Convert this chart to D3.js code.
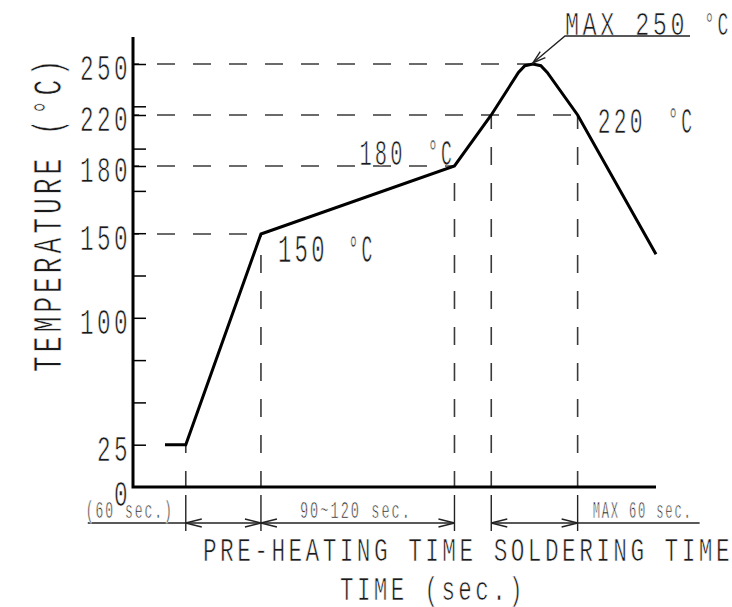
<!DOCTYPE html>
<html lang="en">
<head>
    <meta charset="UTF-8">
    <title>Reflow profile</title>
    <script src="https://d3js.org/d3.v7.min.js"></script>
    <style>
        body {
            margin: 0;
            padding: 0;
            background-color: #fff;
        }
        text {
            font-family: "Liberation Mono", "DejaVu Sans Mono", monospace;
            letter-spacing: 0.15em;
            fill: #1a1a1a;
            stroke: #fff;
            stroke-width: 0.7;
        }
        .axis-line {
            stroke: #000;
            stroke-width: 3;
            fill: none;
        }
        .profile {
            fill: none;
            stroke: #000;
            stroke-width: 3;
            stroke-linejoin: miter;
        }
        .guide {
            stroke: #3a3a3a;
            stroke-width: 1.6;
            stroke-dasharray: 18 18;
            fill: none;
        }
        .thin {
            stroke: #222;
            stroke-width: 1.4;
            fill: none;
        }
    </style>
</head>
<body>
    <div id="chart"></div>
    <script>
        // data (time in sec, temperature in deg C)
        const profileTime = [20, 33, 80, 201, 224, 241, 245, 250, 255, 259, 278, 327];
        const profileTemp = [25, 25, 150, 180, 220, 245, 249, 250, 249, 245, 220, 138];

        const tempLabels = [250, 220, 180, 150, 100, 25, 0];
        const gradTemps = [25, 50, 75, 100, 125, 150, 175, 200, 225, 250];
        const extraTicks = [180, 220];

        const guideTemps = [250, 220, 180, 150];
        const guideTimes = [248, 278, 201, 80];

        const markTimes = [33, 80, 201, 224, 278];
        const markTemps = [25, 150, 180, 220, 220];

        const spanStart = [33, 80, 224];
        const spanEnd = [80, 201, 278];
        const spanLabels = ["(60 sec.)", "90~120 sec.", "MAX 60 sec."];

        const width = 732, height = 607;

        const svg = d3.select("#chart")
            .append("svg")
            .attr("width", width)
            .attr("height", height);

        const x = d3.scaleLinear().domain([0, 327]).range([133, 656]);
        // drawing is not to scale around 180, so piecewise
        const y = d3.scaleLinear()
            .domain([0, 150, 180, 220, 250])
            .range([487, 234, 166, 115, 64]);
        // evenly spaced graduation marks
        const grad = d3.scaleLinear().domain([0, 250]).range([487, 64]);

        function label(px, py, str, len, size, anchor) {
            return svg.append("text")
                .attr("x", px)
                .attr("y", py)
                .attr("font-size", size)
                .attr("text-anchor", anchor || "start")
                .attr("textLength", len)
                .attr("lengthAdjust", "spacingAndGlyphs")
                .text(str);
        }

        // horizontal guides
        guideTemps.forEach((t, i) => {
            svg.append("line")
                .attr("class", "guide")
                .attr("stroke-dashoffset", 12)
                .attr("x1", x(0)).attr("x2", x(guideTimes[i]))
                .attr("y1", y(t)).attr("y2", y(t));
        });

        // vertical guides down to axis
        markTimes.forEach((t, i) => {
            svg.append("line")
                .attr("class", "guide")
                .attr("x1", x(t)).attr("x2", x(t))
                .attr("y1", y(0)).attr("y2", y(markTemps[i]))
                .attr("stroke-dashoffset", 2);
            svg.append("line")
                .attr("class", "thin")
                .attr("x1", x(t)).attr("x2", x(t))
                .attr("y1", y(0) + 8).attr("y2", y(0) + 44);
        });

        // graduation ticks
        svg.append("g")
            .attr("transform", `translate(${x(0)},0)`)
            .call(d3.axisRight(grad).tickValues(gradTemps).tickSize(13).tickFormat(""))
            .call(g => g.select(".domain").remove())
            .call(g => g.selectAll("line").attr("stroke", "#000").attr("stroke-width", 1.5));
        svg.append("g")
            .attr("transform", `translate(${x(0)},0)`)
            .call(d3.axisRight(y).tickValues(extraTicks).tickSize(13).tickFormat(""))
            .call(g => g.select(".domain").remove())
            .call(g => g.selectAll("line").attr("stroke", "#000").attr("stroke-width", 1.5));

        // axes
        svg.append("path")
            .attr("class", "axis-line")
            .attr("d", `M${x(0)},37 V${y(0)} H${x(327)}`);

        // tick labels
        tempLabels.forEach(t => {
            const s = String(t);
            label(131, y(t) + (t === 0 ? 19 : 16), s, 17 * s.length, 37, "end");
        });

        // profile
        const pts = profileTime.map((t, i) => [x(t), y(profileTemp[i])]);
        svg.append("path")
            .attr("class", "profile")
            .attr("d", d3.line()(pts));

        // dimension line
        const dimY = 523;
        svg.append("line").attr("class", "thin")
            .attr("x1", x(spanStart[0]) - 98).attr("x2", x(spanEnd[1]))
            .attr("y1", dimY).attr("y2", dimY);
        svg.append("line").attr("class", "thin")
            .attr("x1", x(spanStart[2])).attr("x2", x(spanEnd[2]) + 122)
            .attr("y1", dimY).attr("y2", dimY);

        function arrowHead(tx, ty, dx, dy, len, half) {
            const l = Math.hypot(dx, dy);
            const ux = dx / l, uy = dy / l;
            const bx = tx - ux * len, by = ty - uy * len;
            svg.append("path")
                .attr("class", "thin")
                .attr("d", `M${bx - uy * half},${by + ux * half} L${tx},${ty} L${bx + uy * half},${by - ux * half}`);
        }

        spanStart.forEach((s, i) => {
            arrowHead(x(s), dimY, -1, 0, 16, 4);
            arrowHead(x(spanEnd[i]), dimY, 1, 0, 16, 4);
        });

        label(x(spanStart[0]) - 12, 518, spanLabels[0], 88, 23, "end");
        label(x(spanStart[1]) + 39, 518, spanLabels[1], 112, 23);
        label(x(spanEnd[2]) + 15, 518, spanLabels[2], 100, 23);

        // point annotations
        label(x(80) + 17, y(150) + 28, "150", 50, 39);
        label(x(80) + 87, y(150) + 28, "°C", 27, 39);
        label(x(201) - 95, y(180) - 1, "180", 46, 37);
        label(x(201) - 27, y(180) - 1, "°C", 27, 37);
        label(x(278) + 20, y(220) + 18, "220", 48, 37);
        label(x(278) + 90, y(220) + 18, "°C", 27, 37);

        // MAX 250 leader
        const peakX = x(250), peakY = y(250) - 1;
        label(565, 35, "MAX 250", 123, 34);
        label(704, 35, "°C", 27, 34);
        svg.append("path").attr("class", "thin")
            .attr("d", `M690,36 H565 L${peakX},${peakY}`);
        arrowHead(peakX, peakY, peakX - 565, peakY - 36, 13, 4);

        // axis titles
        label(203, 561, "PRE-HEATING TIME SOLDERING TIME", 530, 34);
        label(340, 600, "TIME (sec.)", 186, 33);
        label(0, 0, "TEMPERATURE (°C)", 316, 41, "middle")
            .attr("transform", "translate(61,214) rotate(-90)");
    </script>
</body>
</html>
